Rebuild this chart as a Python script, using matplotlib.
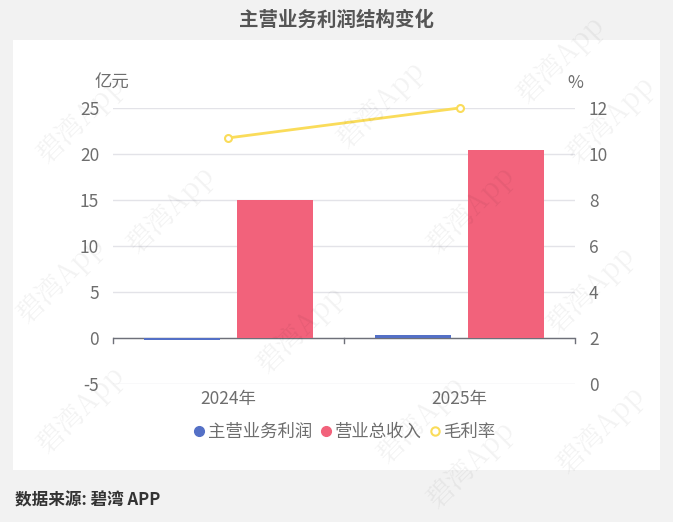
import matplotlib
matplotlib.use("Agg")
import matplotlib.pyplot as plt
from matplotlib.patches import Rectangle
from matplotlib.lines import Line2D
import numpy as np

plt.rcParams['font.family'] = ['Noto Sans CJK SC', 'DejaVu Sans']
plt.rcParams['axes.unicode_minus'] = False

# data
years = ["2024年", "2025年"]
profit = [-0.2, 0.33]        # 主营业务利润, 亿元
revenue = [15.0, 20.4]       # 营业总收入, 亿元
margin = [10.7, 12.0]        # 毛利率, %
labels = ["主营业务利润", "营业总收入", "毛利率"]

c_profit = "#5470c6"
c_rev = "#f2627b"
c_margin = "#fadc5a"
txt = "#6e6e6e"

fig = plt.figure(figsize=(6.73, 5.22), dpi=100)
fig.patch.set_facecolor("#f2f2f2")
# white card
fig.patches.append(Rectangle((13/673, 1-470/522), 647/673, 430/522,
                             transform=fig.transFigure, facecolor="white",
                             edgecolor="none", zorder=-5))

ax = fig.add_axes([113/673, 1-384/522, 462/673, 276/522])
ax.set_facecolor("none")
ax.set_zorder(2)
ax2 = ax.twinx()
ax2.set_zorder(3)
ax2.set_facecolor("none")

x = np.arange(len(years))
w = 0.33
ax.bar(x - 0.2, profit, w, color=c_profit, zorder=3)
ax.bar(x + 0.2, revenue, w, color=c_rev, zorder=3)
ax2.plot(x, margin, color=c_margin, lw=2, marker="o", ms=5,
         mfc="white", mec=c_margin, mew=1.5, zorder=4, clip_on=False)

ax.set_xlim(-0.5, 1.5)
ax.set_ylim(-5, 25)
ax.set_yticks(range(-5, 26, 5))
ax2.set_ylim(0, 12)
ax2.set_yticks(range(0, 13, 2))

ax.grid(axis="y", color="#e3e3e8", lw=1, zorder=0)
for s in ["top", "right", "left", "bottom"]:
    ax.spines[s].set_visible(False)
    ax2.spines[s].set_visible(False)

# category axis sits at zero
ax.axhline(0, color="#6e7079", lw=1, zorder=2.5)
for b in [-0.5, 0.5, 1.5]:
    ax.plot([b, b], [0, -0.5], color="#6e7079", lw=1, zorder=2.5, clip_on=False)
ax.set_xticks(x)
ax.set_xticklabels(years)
ax.tick_params(axis="x", length=0, pad=4, labelsize=12.5, labelcolor=txt)
ax.tick_params(axis="y", length=0, pad=10, labelsize=12.5, labelcolor=txt)
ax2.tick_params(axis="y", length=0, pad=10, labelsize=12.5, labelcolor=txt)

fig.text(112/673, 1-83/522, "亿元", ha="center", va="center", fontsize=12.5, color=txt)
fig.text(575/673, 1-83/522, "%", ha="center", va="center", fontsize=12.5, color=txt)

fig.text(0.5, 1-20/522, "主营业务利润结构变化", ha="center", va="center",
         fontsize=14, fontweight="bold", color="#555555")
fig.text(15/673, 1-500/522, "数据来源: 碧湾 APP", ha="left", va="center",
         fontsize=12, fontweight="bold", color="#333333")

handles = [Line2D([], [], ls="none", marker="o", ms=7, color=c_profit),
           Line2D([], [], ls="none", marker="o", ms=7, color=c_rev),
           Line2D([], [], ls="none", marker="o", ms=6, mfc="white", mec=c_margin, mew=1.5)]
fig.legend(handles, labels, loc="center", bbox_to_anchor=(344/673, 1-432/522),
           ncol=3, frameon=False, fontsize=12.5, labelcolor=txt,
           handletextpad=0.1, columnspacing=0.4, handlelength=0.8)

# faint watermarks
for (wx, wy) in [(80, 120), (380, 105), (170, 210), (470, 210), (610, 120),
                 (60, 280), (300, 330), (590, 290), (80, 410), (420, 420),
                 (560, 60), (600, 430), (470, 465)]:
    fig.text(wx/673, 1-wy/522, "碧湾App", rotation=45, fontsize=20,
             color="#000000", alpha=0.05, ha="center", va="center",
             family=["Noto Serif CJK SC", "Noto Sans CJK SC", "DejaVu Sans"], zorder=10)

fig.savefig("out.png", dpi=100, facecolor=fig.get_facecolor())
